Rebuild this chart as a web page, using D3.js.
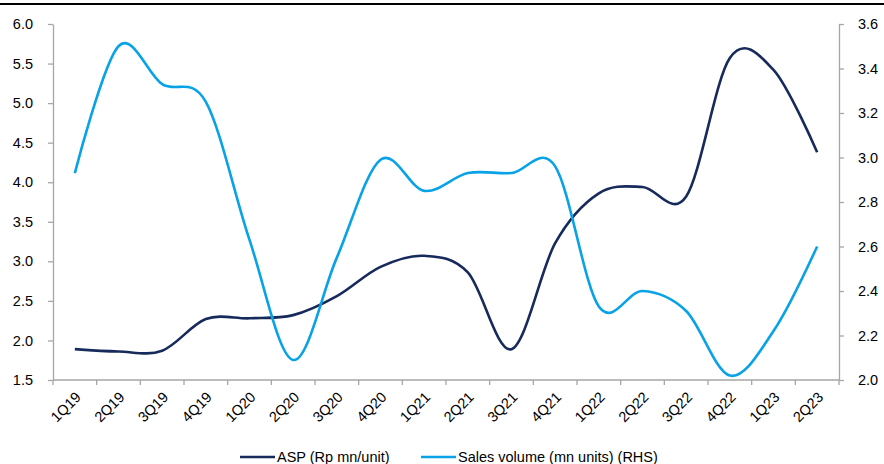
<!DOCTYPE html>
<html lang="en">
<head>
    <meta charset="UTF-8">
    <title>ASP vs Sales volume</title>
    <script src="https://d3js.org/d3.v7.min.js"></script>
    <style>
        body { margin: 0; background: #fff; }
        .axis text {
            font: 14.5px "Liberation Sans", Arial, sans-serif;
            fill: #000;
        }
        .axis path,
        .axis line {
            fill: none;
            stroke: #a6a6a6;
            stroke-width: 1.3px;
        }
        .legend text {
            font: 14.5px "Liberation Sans", Arial, sans-serif;
            fill: #000;
        }
    </style>
</head>
<body>
    <svg id="chart"></svg>
    <script>
        // Data
        const quarters = ["1Q19", "2Q19", "3Q19", "4Q19", "1Q20", "2Q20", "3Q20", "4Q20", "1Q21",
                          "2Q21", "3Q21", "4Q21", "1Q22", "2Q22", "3Q22", "4Q22", "1Q23", "2Q23"];
        const asp = [1.89, 1.86, 1.87, 2.27, 2.28, 2.32, 2.56, 2.93, 3.07,
                     2.86, 1.89, 3.23, 3.86, 3.94, 3.82, 5.57, 5.42, 4.38];
        const salesVolume = [2.93, 3.50, 3.33, 3.25, 2.63, 2.09, 2.55, 2.99, 2.85,
                             2.93, 2.93, 2.96, 2.33, 2.40, 2.31, 2.02, 2.22, 2.60];
        const leftTicks = [1.5, 2.0, 2.5, 3.0, 3.5, 4.0, 4.5, 5.0, 5.5, 6.0];
        const rightTicks = [2.0, 2.2, 2.4, 2.6, 2.8, 3.0, 3.2, 3.4, 3.6];
        const seriesNames = ["ASP (Rp mn/unit)", "Sales volume (mn units) (RHS)"];
        const colors = ["#172a5c", "#08a2e6"];

        const W = 884, H = 464;
        const margin = { top: 24, right: 45, bottom: 84, left: 53 };

        const svg = d3.select("#chart")
            .attr("width", W)
            .attr("height", H);

        // top rule
        svg.append("line")
            .attr("x1", 0).attr("x2", W)
            .attr("y1", 4).attr("y2", 4)
            .attr("stroke", "#000")
            .attr("stroke-width", 2);

        const x = d3.scaleBand()
            .domain(quarters)
            .range([margin.left, W - margin.right]);

        const yL = d3.scaleLinear()
            .domain([1.5, 6.0])
            .range([H - margin.bottom, margin.top]);

        const yR = d3.scaleLinear()
            .domain([2.0, 3.6])
            .range([H - margin.bottom, margin.top]);

        const cx = d => x(d) + x.bandwidth() / 2;

        // left axis
        svg.append("g")
            .attr("class", "axis")
            .attr("transform", "translate(" + margin.left + ",0)")
            .call(d3.axisLeft(yL).tickValues(leftTicks).tickFormat(d3.format(".1f"))
                .tickSize(5).tickPadding(15).tickSizeOuter(0));

        // right axis
        svg.append("g")
            .attr("class", "axis")
            .attr("transform", "translate(" + (W - margin.right) + ",0)")
            .call(d3.axisRight(yR).tickValues(rightTicks).tickFormat(d3.format(".1f"))
                .tickSize(5).tickPadding(14).tickSizeOuter(0));

        // x axis: ticks at band boundaries
        const xAxis = svg.append("g")
            .attr("class", "axis")
            .attr("transform", "translate(0," + (H - margin.bottom) + ")");

        xAxis.append("line")
            .attr("x1", margin.left).attr("x2", W - margin.right)
            .attr("y1", 0).attr("y2", 0);

        xAxis.selectAll(".tk")
            .data(quarters.concat(["end"]))
            .enter().append("line")
            .attr("class", "tk")
            .attr("x1", (d, i) => i < quarters.length ? x(d) : x.range()[1])
            .attr("x2", (d, i) => i < quarters.length ? x(d) : x.range()[1])
            .attr("y1", 0).attr("y2", 5);

        xAxis.selectAll(".lbl")
            .data(quarters)
            .enter().append("text")
            .attr("class", "lbl")
            .attr("text-anchor", "end")
            .attr("transform", d => "translate(" + (cx(d) + 7) + ",18) rotate(-45)")
            .text(d => d);

        // lines (Excel-style smoothing)
        const lineL = d3.line()
            .x((d, i) => cx(quarters[i]))
            .y(d => yL(d))
            .curve(d3.curveCatmullRom.alpha(0));

        const lineR = d3.line()
            .x((d, i) => cx(quarters[i]))
            .y(d => yR(d))
            .curve(d3.curveCatmullRom.alpha(0));

        svg.append("path")
            .datum(asp)
            .attr("fill", "none")
            .attr("stroke", colors[0])
            .attr("stroke-width", 2.6)
            .attr("d", lineL);

        svg.append("path")
            .datum(salesVolume)
            .attr("fill", "none")
            .attr("stroke", colors[1])
            .attr("stroke-width", 2.6)
            .attr("d", lineR);

        // legend
        const legend = svg.append("g").attr("class", "legend");
        const legendX = [240, 421];
        seriesNames.forEach((name, i) => {
            legend.append("line")
                .attr("x1", legendX[i]).attr("x2", legendX[i] + 35)
                .attr("y1", 457).attr("y2", 457)
                .attr("stroke", colors[i])
                .attr("stroke-width", 2.6);
            legend.append("text")
                .attr("x", legendX[i] + 37)
                .attr("y", 462)
                .text(name);
        });
    </script>
</body>
</html>
